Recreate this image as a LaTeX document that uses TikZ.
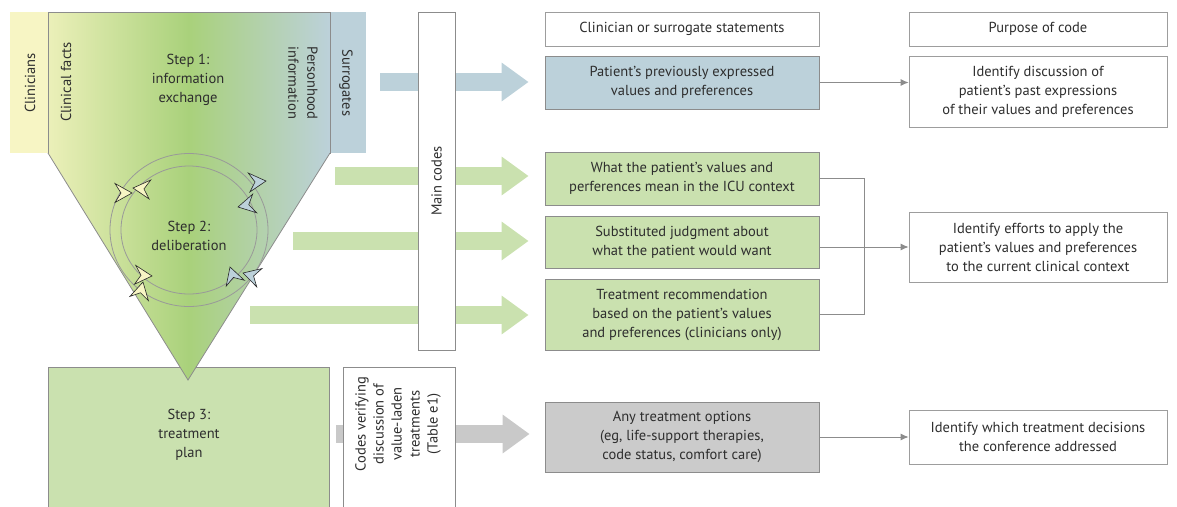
\documentclass[tikz,border=0pt]{standalone}
\usepackage{fontspec}
\setmainfont{PT Sans}
\usetikzlibrary{arrows.meta,calc}
\definecolor{txt}{HTML}{2E2E2E}
\definecolor{bord}{HTML}{8C8C8C}
\definecolor{yel}{HTML}{F7F5C4}
\definecolor{grn}{HTML}{A9D17B}
\definecolor{blu}{HTML}{BCD1DA}
\definecolor{lgrn}{HTML}{CAE1AF}
\definecolor{arrg}{HTML}{C9C9C9}
\definecolor{boxg}{HTML}{CBCBCB}
\newcommand\ringtip[4]{%
  \begin{scope}[shift={(#1,#2)},rotate=#3]
    \filldraw[fill=#4, draw=black!85, line width=0.6pt, line join=miter]
      (0,0) -- (-17,9.5) -- (-11,0) -- (-17,-9.5) -- cycle;
  \end{scope}}
\begin{document}
\begin{tikzpicture}[x=1pt,y=-1pt, font=\fontsize{14.5}{19}\selectfont, text=txt,
  sbox/.style={draw=bord, line width=0.8pt, minimum width=274pt, align=center, inner sep=0pt},
  pbox/.style={draw=bord!85, line width=0.8pt, fill=white, minimum width=258pt, align=center, inner sep=0pt},
  conn/.style={draw=bord, line width=0.9pt},
  tipc/.style={-{Latex[length=8pt,width=7pt]}},
  blk/.style={line width=18pt, draw=#1, -{Triangle[length=27pt,width=37pt]}},
  lbl/.style={align=center, inner sep=0pt},
  grad/.style={left color=yel!85!grn, right color=blu, middle color=grn}
  ]
\useasboundingbox (0,0) rectangle (1177,506);

% ---- left side: steps ----
\fill[yel] (10,12) rectangle (48,153);
\fill[blu] (330,12) rectangle (366,153);
\shade[grad] (48,12) rectangle (330,153);
\draw[bord, line width=0.8pt] (48,12) rectangle (330,153);

% step 3 box
\draw[bord, line width=0.8pt, fill=lgrn] (48,510) -- (48,367) -- (329,367) -- (329,510);

% triangle
\shade[grad] (48,153) -- (330,153) -- (188,380) -- cycle;
\draw[bord, line width=0.8pt] (48,153) -- (188,380) -- (330,153);

% ring
\draw[black!40, line width=0.8pt] (189,230) ellipse [x radius=79, y radius=76.5];
\draw[black!40, line width=0.8pt] (189,230) ellipse [x radius=68, y radius=64];
\ringtip{132}{193}{0}{yel}
\ringtip{133}{188}{175}{yel}
\ringtip{266}{181}{5}{blu}
\ringtip{238}{207}{192}{blu}
\ringtip{152}{276}{-4}{yel}
\ringtip{143}{282}{77}{yel}
\ringtip{230}{267}{108}{blu}
\ringtip{243}{273}{164}{blu}

% texts on the left
\node[lbl, rotate=90] (clin) at (30,83) {Clinicians};
\node[lbl, rotate=90] (facts) at (66,82) {Clinical facts};
\node[lbl] (step1) at (188,80) {Step 1:\\information\\exchange};
\node[lbl, rotate=-90] (person) at (303,83) {Personhood\\information};
\node[lbl, rotate=-90] (surr) at (346,83) {Surrogates};
\node[lbl] (step2) at (189,236) {Step 2:\\deliberation};
\node[lbl] (step3) at (189,435) {Step 3:\\treatment\\plan};

% ---- right side boxes ----
\node[sbox, minimum height=34pt, draw=bord!85] (hdr1) at (682,29) {Clinician or surrogate statements};
\node[pbox, minimum height=34pt] (hdr2) at (1038,29) {Purpose of code};

\node[sbox, fill=blu, minimum height=53pt] (b1) at (682,82.5) {Patient’s previously expressed\\values and preferences};
\node[sbox, fill=lgrn, minimum height=53pt] (g1) at (682,178.5) {What the patient’s values and\\perferences mean in the ICU context};
\node[sbox, fill=lgrn, minimum height=52pt] (g2) at (682,242) {Substituted judgment about\\what the patient would want};
\node[sbox, fill=lgrn, minimum height=71pt] (g3) at (682,314.5) {Treatment recommendation\\based on the patient’s values\\and preferences (clinicians only)};
\node[sbox, fill=boxg, minimum height=70pt] (gr) at (682,437) {Any treatment options\\(eg, life-support therapies,\\code status, comfort care)};

\node[pbox, minimum height=71pt] (p1) at (1038,91.5) {Identify discussion of\\patient’s past expressions\\of their values and preferences};
\node[pbox, minimum height=70pt] (p2) at (1038,247) {Identify efforts to apply the\\patient’s values and preferences\\to the current clinical context};
\node[pbox, minimum height=54pt] (p3) at (1038,437) {Identify which treatment decisions\\the conference addressed};

% ---- block arrows ----
\coordinate (sa) at (380,82);
\coordinate (sb) at (335,176);
\coordinate (sc) at (293,241);
\coordinate (sd) at (250,315);
\coordinate (se) at (336,434);
\draw[blk=blu] (sa) -- (sa -| {$(b1.west)+(-16,0)$});
\draw[blk=lgrn] (sb) -- (sb -| {$(g1.west)+(-16,0)$});
\draw[blk=lgrn] (sc) -- (sc -| {$(g2.west)+(-16,0)$});
\draw[blk=lgrn] (sd) -- (sd -| {$(g3.west)+(-16,0)$});
\draw[blk=arrg] (se) -- (se -| {$(gr.west)+(-15,0)$});

% code boxes over arrows
\node[draw=bord, line width=0.8pt, fill=white, minimum width=37pt, minimum height=338pt, inner sep=0pt] (main) at (436.5,181) {};
\node[lbl, rotate=90] (maintxt) at (main.center) {Main codes};
\draw[bord, line width=0.8pt, fill=white] (343,510) -- (343,367) -- (455,367) -- (455,510);
\node[lbl, rotate=90, font=\fontsize{14.5}{18}\selectfont] (codes) at (398,424) {Codes verifying\\discussion of\\value-laden\\treatments\\(Table e1)};

% ---- connectors ----
\draw[conn, tipc] (b1.east) -- (b1.east -| p1.west);
\coordinate (brk) at (864,0);
\draw[conn] (g1.east) -- (g1.east -| brk) -- (g3.east -| brk) -- (g3.east);
\draw[conn, tipc] (p2.west -| g2.east) -- (p2.west);
\draw[conn, tipc] (gr.east) -- (p3.west);
\end{tikzpicture}
\end{document}
